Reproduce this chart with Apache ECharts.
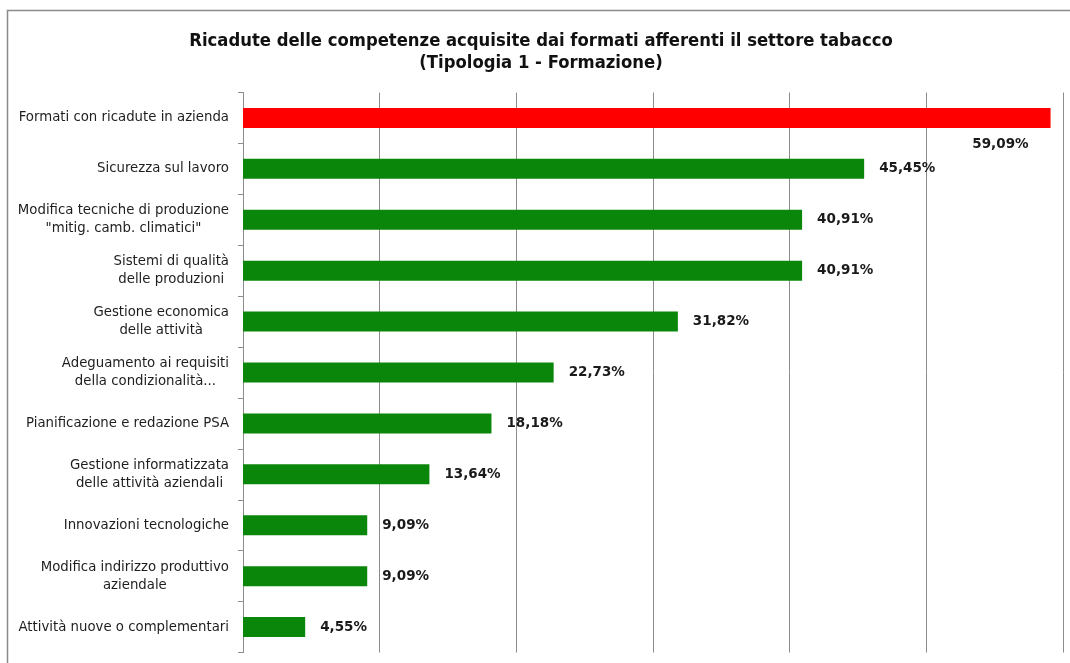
<!DOCTYPE html>
<html>
<head>
<meta charset="utf-8">
<script src="https://cdn.jsdelivr.net/npm/echarts@6/dist/echarts.min.js"></script>
<style>
  html, body { margin: 0; padding: 0; background: #ffffff; }
  #chart { width: 1070px; height: 663px; }
</style>
</head>
<body>
<div id="chart"></div>
<script>
// Competenze acquisite (categorie, dall'alto verso il basso)
const categories = [
  'Formati con ricadute in azienda',
  'Sicurezza sul lavoro',
  'Modifica tecniche di produzione\n"mitig. camb. climatici"',
  'Sistemi di qualità\ndelle produzioni',
  'Gestione economica\ndelle attività',
  'Adeguamento ai requisiti\ndella condizionalità...',
  'Pianificazione e redazione PSA',
  'Gestione informatizzata\ndelle attività aziendali',
  'Innovazioni tecnologiche',
  'Modifica indirizzo produttivo\naziendale',
  'Attività nuove o complementari'
];

// Percentuali dei formati
const values = [59.09, 45.45, 40.91, 40.91, 31.82, 22.73, 18.18, 13.64, 9.09, 9.09, 4.55];

// Ticks of the value axis (percent)
const xTicks = { min: 0, max: 60, interval: 10 };

const titleLines = [
  'Ricadute delle competenze acquisite dai formati afferenti il settore tabacco',
  '(Tipologia 1 - Formazione)'
];

const fmt = v => v.toFixed(2).replace('.', ',') + '%';

const labelFont = {
  fontFamily: 'DejaVu Sans',
  fontWeight: 'bold',
  fontSize: 13.5,
  color: '#1a1a1a'
};

const seriesData = values.map((v, i) => {
  if (i === 0) {
    return {
      value: v,
      itemStyle: { color: '#ff0000' },
      label: {
        position: ['100%', '100%'],
        align: 'right',
        verticalAlign: 'top',
        offset: [-22, 10]
      }
    };
  }
  return { value: v };
});

const chart = echarts.init(document.getElementById('chart'), null, { renderer: 'canvas' });

chart.setOption({
  backgroundColor: '#ffffff',
  animation: false,
  graphic: [{
    type: 'rect',
    shape: { x: 7.5, y: 10.5, width: 1080, height: 700 },
    style: { fill: null, stroke: '#8a8a8a', lineWidth: 1.5 },
    silent: true,
    z: -1
  }],
  title: {
    text: titleLines.join('\n'),
    left: 536,
    textAlign: 'center',
    top: 25,
    textStyle: {
      fontFamily: 'DejaVu Sans Condensed',
      fontWeight: 'bold',
      fontSize: 18.3,
      lineHeight: 22,
      color: '#111111'
    }
  },
  grid: {
    left: 243,
    right: 7,
    top: 92.5,
    bottom: 10.5,
    containLabel: false
  },
  xAxis: {
    type: 'value',
    min: xTicks.min,
    max: xTicks.max,
    interval: xTicks.interval,
    axisLine: { show: false },
    axisTick: { show: false },
    axisLabel: { show: false },
    splitLine: { show: true, lineStyle: { color: '#8c8c8c', width: 1 } }
  },
  yAxis: {
    type: 'category',
    data: categories,
    inverse: true,
    axisLine: { show: true, lineStyle: { color: '#8c8c8c', width: 1 } },
    axisTick: { show: true, inside: false, length: 5, lineStyle: { color: '#8c8c8c' } },
    axisLabel: {
      margin: 14,
      align: 'right',
      // each line centred inside the right-aligned label block
      formatter: v => v.split('\n').map(l => '{c|' + l + '}').join('\n'),
      rich: {
        c: {
          align: 'center',
          fontFamily: 'DejaVu Sans',
          fontSize: 13.3,
          lineHeight: 18,
          color: '#1e1e1e'
        }
      }
    }
  },
  series: [{
    type: 'bar',
    data: seriesData,
    barWidth: 20,
    itemStyle: { color: '#0a870a' },
    label: Object.assign({
      show: true,
      position: 'right',
      distance: 15,
      formatter: p => fmt(p.value)
    }, labelFont)
  }]
});
</script>
</body>
</html>
